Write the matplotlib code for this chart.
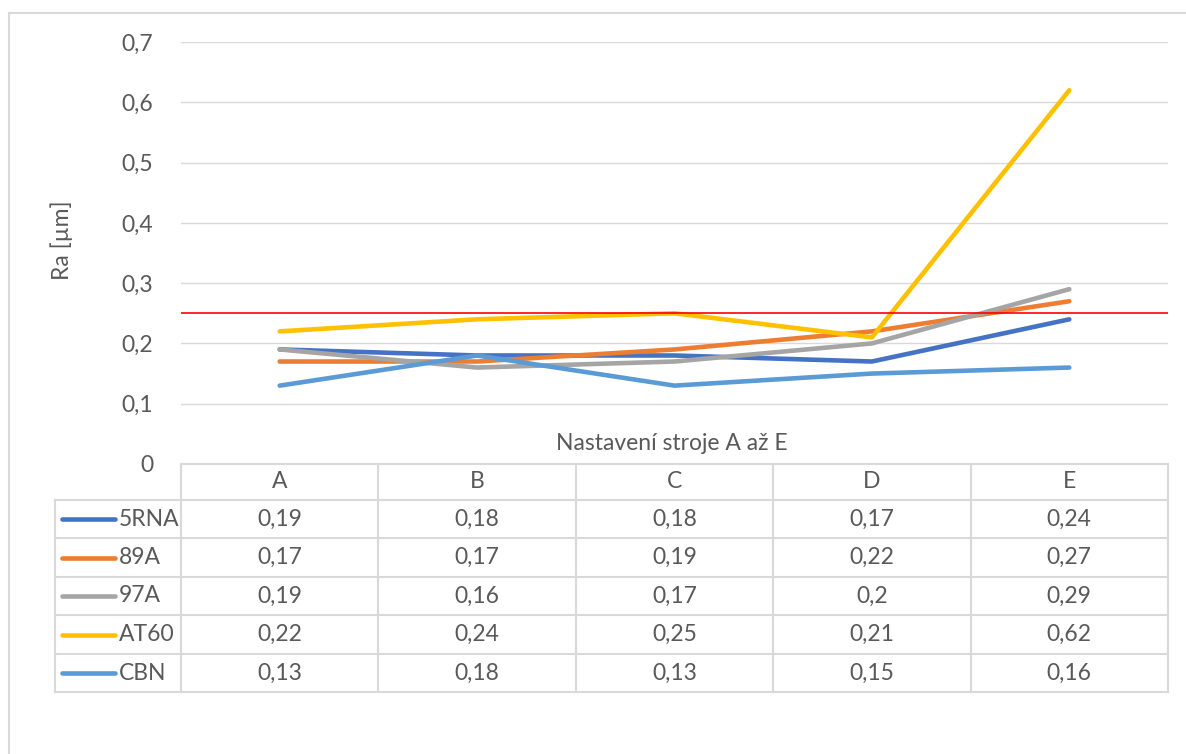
import matplotlib.pyplot as plt
from matplotlib.lines import Line2D

# Ra values per machine setting
settings = ['A', 'B', 'C', 'D', 'E']
series_names = ['5RNA', '89A', '97A', 'AT60', 'CBN']
ra_5rna = [0.19, 0.18, 0.18, 0.17, 0.24]
ra_89a = [0.17, 0.17, 0.19, 0.22, 0.27]
ra_97a = [0.19, 0.16, 0.17, 0.20, 0.29]
ra_at60 = [0.22, 0.24, 0.25, 0.21, 0.62]
ra_cbn = [0.13, 0.18, 0.13, 0.15, 0.16]
limit_ra = 0.25
y_ticks = [0, 0.1, 0.2, 0.3, 0.4, 0.5, 0.6, 0.7]

colors = ['#4472C4', '#ED7D31', '#A5A5A5', '#FFC000', '#5B9BD5']
all_series = [ra_5rna, ra_89a, ra_97a, ra_at60, ra_cbn]

W, H = 1186, 754
plt.rcParams['font.family'] = ['Lato', 'DejaVu Sans']
txt_color = '#595959'
grid_color = '#D9D9D9'
fs = 16.5

fig = plt.figure(figsize=(W / 100, H / 100), dpi=100)

# pixel -> figure fraction helpers
def fx(px):
    return px / W

def fy(py):
    return 1 - py / H

def num(v):
    return ('%g' % v).replace('.', ',')

x0, x1 = 181, 1168
y_top, y_zero = 42, 464
ax = fig.add_axes([fx(x0), fy(y_zero), fx(x1) - fx(x0), fy(y_top) - fy(y_zero)])
ax.set_xlim(-0.5, len(settings) - 0.5)
ax.set_ylim(0, 0.7)
for s in ax.spines.values():
    s.set_visible(False)
ax.set_xticks([])
ax.set_yticks(y_ticks)
ax.set_yticklabels([num(v) for v in y_ticks], fontsize=fs, color=txt_color)
ax.tick_params(axis='y', length=0, pad=20)
for v in y_ticks[1:]:
    ax.axhline(v, color=grid_color, lw=1.0, zorder=0)

xs = list(range(len(settings)))
for vals, c in zip(all_series, colors):
    ax.plot(xs, vals, color=c, lw=3.3, solid_capstyle='round', solid_joinstyle='round', zorder=3)
ax.axhline(limit_ra, color='#FF0000', lw=1.2, zorder=4)

fig.text(fx(62), fy(240), 'Ra [µm]', rotation=90, fontsize=fs, color=txt_color,
         ha='center', va='center')
fig.text(fx(672), fy(443), 'Nastavení stroje A až E', fontsize=fs, color=txt_color,
         ha='center', va='center')

# outer chart frame (top and left edges visible)
fig.add_artist(Line2D([fx(9), fx(W + 5)], [fy(13), fy(13)], color=grid_color, lw=1.5))
fig.add_artist(Line2D([fx(9), fx(9)], [fy(13), fy(H + 5)], color=grid_color, lw=1.5))

# data table below the plot
col_w = (x1 - x0) / len(settings)
row_tops = [464, 500, 538, 577, 615, 654, 692]
tbl_left = 55

def hline(xa, xb, yp):
    fig.add_artist(Line2D([fx(xa), fx(xb)], [fy(yp), fy(yp)], color=grid_color, lw=1.5))

def vline(xp, ya, yb):
    fig.add_artist(Line2D([fx(xp), fx(xp)], [fy(ya), fy(yb)], color=grid_color, lw=1.5))

hline(x0, x1, row_tops[0])
for yp in row_tops[1:]:
    hline(tbl_left, x1, yp)
vline(tbl_left, row_tops[1], row_tops[-1])
vline(x0, row_tops[0], row_tops[-1])
for i in range(1, len(settings) + 1):
    vline(x0 + i * col_w, row_tops[0], row_tops[-1])

for i, cat in enumerate(settings):
    fig.text(fx(x0 + (i + 0.5) * col_w), fy((row_tops[0] + row_tops[1]) / 2), cat,
             fontsize=fs, color=txt_color, ha='center', va='center')

for r, (name, vals, c) in enumerate(zip(series_names, all_series, colors)):
    yc = (row_tops[r + 1] + row_tops[r + 2]) / 2
    fig.add_artist(Line2D([fx(62), fx(115)], [fy(yc), fy(yc)], color=c, lw=3.3,
                          solid_capstyle='round'))
    fig.text(fx(119), fy(yc), name, fontsize=fs, color=txt_color, ha='left', va='center')
    for i, v in enumerate(vals):
        fig.text(fx(x0 + (i + 0.5) * col_w), fy(yc), num(v),
                 fontsize=fs, color=txt_color, ha='center', va='center')

fig.savefig('out.png', dpi=100)
